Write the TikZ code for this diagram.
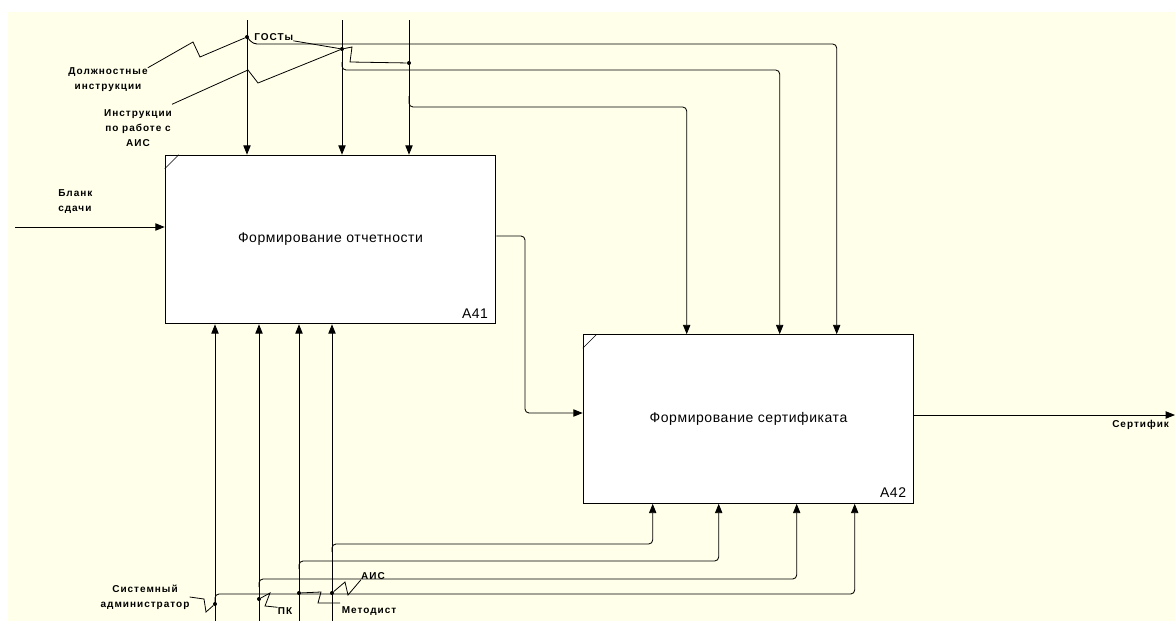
\documentclass[tikz,border=0pt]{standalone}
\usepackage{fontspec}
\setmainfont{Liberation Sans}
\newfontfamily\idefsans[LetterSpace=4]{Liberation Sans}
\newfontfamily\lblfont[LetterSpace=10]{Liberation Sans}
\usepackage{tikz}
\usetikzlibrary{arrows.meta, positioning, calc}
\definecolor{idefbg}{RGB}{255,255,234}
\tikzset{
  func/.style={rectangle,draw=black,fill=white,line width=0.7pt,minimum width=248pt,
    minimum height=126.5pt,inner sep=0pt,font=\idefsans\fontsize{10.5}{12}\selectfont},
  code/.style={anchor=south east,inner sep=0pt,font=\idefsans\fontsize{10.5}{12}\selectfont},
  arr/.style={-{Triangle[length=7pt,width=5.5pt]},line width=0.65pt,rounded corners=3pt},
  squig/.style={line width=0.6pt},
  lbl/.style={font=\lblfont\bfseries\fontsize{7.5}{11.25}\selectfont,inner sep=0pt,align=center},
  dot/.style={circle,fill=black,inner sep=0pt,minimum size=3pt}
}

\begin{document}
\begin{tikzpicture}[x=0.75pt,y=-0.75pt]
  \useasboundingbox (0,0) rectangle (1175,621);
  \fill[idefbg] (8,12) rectangle (1175,621);

  % functions
  \node[func] (a41) at (330.5,239.5) {Формирование отчетности};
  \node[func] (a42) at (748.5,419) {Формирование сертификата};
  \draw[thin] ($(a41.north west)+(0,14)$) -- ($(a41.north west)+(14,0)$);
  \draw[thin] ($(a42.north west)+(0,14)$) -- ($(a42.north west)+(14,0)$);
  \node[code] (c41) at ($(a41.south east)+(-8,-6)$) {A41};
  \node[code] (c42) at ($(a42.south east)+(-8,-6)$) {A42};

  % free ends
  \coordinate (ctl1) at (247,20);
  \coordinate (ctl2) at (342,20);
  \coordinate (ctl3) at (409,20);
  \coordinate (mech1) at (215,621);
  \coordinate (mech2) at (259,621);
  \coordinate (mech3) at (299,621);
  \coordinate (mech4) at (332,621);
  \coordinate (inp) at (15,227);
  \coordinate (outp) at (1175,415);
  \coordinate (t42a) at ($(a42.north west)+(104,0)$);
  \coordinate (t42b) at ($(a42.north west)+(197,0)$);
  \coordinate (t42c) at ($(a42.north west)+(254,0)$);
  \coordinate (b42a) at ($(a42.south west)+(70,0)$);
  \coordinate (b42b) at ($(a42.south west)+(136,0)$);
  \coordinate (b42c) at ($(a42.south west)+(214,0)$);
  \coordinate (b42d) at ($(a42.south west)+(272,0)$);

  % labels
  \node[lbl] (ldolzh) at (108,80) {Должностные\\инструкции};
  \node[lbl] (linstr) at (138,128) {Инструкции\\по работе с\\АИС};
  \node[lbl,anchor=west] (lgost) at (254,37) {ГОСТы};
  \node[lbl,anchor=north west,align=left] (lblank) at (58,189) {Бланк\\сдачи};
  \node[lbl] (lsys) at (145,597) {Системный\\администратор};
  \node[lbl] (lpk) at (285,611) {ПК};
  \node[lbl] (lmet) at (369,611) {Методист};
  \node[lbl] (lais) at (373,576) {АИС};
  \node[lbl,anchor=north west] (lout) at (1112,420) {Сертифик};

  % junctions
  \node[dot] (j1) at (247,37) {};
  \node[dot] (j2) at (342,49) {};
  \node[dot] (j3) at (409,63) {};
  \node[dot] (jb1) at (215,604) {};
  \node[dot] (jb2) at (259,599) {};
  \node[dot] (jb3) at (299,593) {};
  \node[dot] (jb4) at (332,593) {};

  % controls
  \draw[arr] (ctl1) -- (ctl1 |- a41.north);
  \draw[arr] (ctl2) -- (ctl2 |- a41.north);
  \draw[arr] (ctl3) -- (ctl3 |- a41.north);
  \draw[arr] (j1.center) -- (253,44) -| (t42c);
  \draw[arr] (ctl2 |- 0,62) |- (t42b |- 0,70) -- (t42b);
  \draw[arr] (ctl3 |- 0,96) |- (t42a |- 0,107) -- (t42a);

  % mechanisms
  \draw[arr] (mech1) -- (mech1 |- a41.south);
  \draw[arr] (mech2) -- (mech2 |- a41.south);
  \draw[arr] (mech3) -- (mech3 |- a41.south);
  \draw[arr] (mech4) -- (mech4 |- a41.south);
  \draw[arr] (mech4 |- 0,552) |- (b42a |- 0,544) -- (b42a);
  \draw[arr] (mech3 |- 0,569) |- (b42b |- 0,561) -- (b42b);
  \draw[arr] (mech2 |- 0,587) |- (b42c |- 0,579) -- (b42c);
  \draw[arr] (mech1 |- 0,603) |- (b42d |- 0,594) -- (b42d);

  % input / outputs
  \draw[arr] (inp) -- (inp -| a41.west);
  \draw[arr] (a41.east |- 0,236) -| (525,413) -- (a42.west |- 0,413);
  \draw[arr] (a42.east |- 0,415) -- (outp);

  % label leaders
  \draw[squig] (ldolzh.north east) -- (193,42) -- (200,57) -- (j1);
  \draw[squig] ($(linstr.north east)+(0,-5)$) -- (248,70) -- (258,83) -- (j2);
  \draw[squig] (lgost.south east) -- (j2);
  \draw[squig] (j2) -- (352,47) -- (350,62) -- (j3);
  \draw[squig] (lsys.east) -- (204,599) -- (206,612) -- (jb1);
  \draw[squig] (jb2) -- (270,593) -- (265,606) -- (lpk.north west);
  \draw[squig] (jb3) -- (321,592) -- (318,603) -- (340,603);
  \draw[squig] (jb4) -- (345,582) -- (348,595) -- (lais.south west);
\end{tikzpicture}
\end{document}
